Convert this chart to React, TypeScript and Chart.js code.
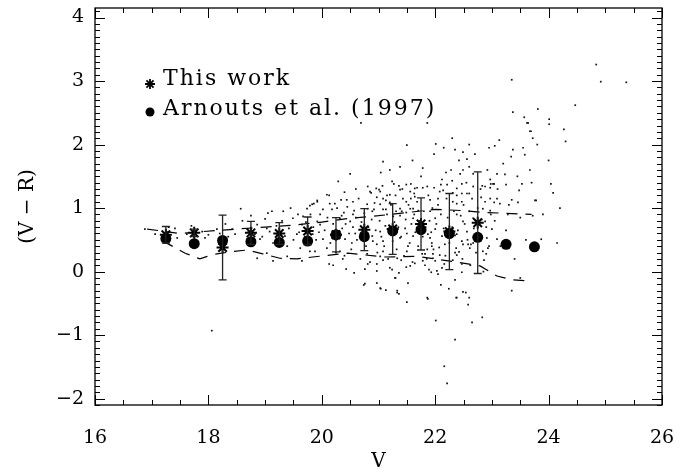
import { useEffect, useRef } from "react";
import { Chart, registerables } from "chart.js";

Chart.register(...registerables);

// ---- data ----
const binV = [17.25, 17.75, 18.25, 18.75, 19.25, 19.75, 20.25, 20.75, 21.25, 21.75, 22.25, 22.75];
const thisWork = [0.58, 0.61, 0.38, 0.61, 0.6, 0.64, 0.58, 0.66, 0.67, 0.75, 0.63, 0.77];
const thisWorkErr = [0.13, 0.06, 0.51, 0.18, 0.17, 0.22, 0.27, 0.33, 0.4, 0.41, 0.6, 0.8];

const arnoutsV = [17.25, 17.75, 18.25, 18.75, 19.25, 19.75, 20.25, 20.75, 21.25, 21.75, 22.25, 22.75, 23.25, 23.75];
const arnouts = [0.52, 0.44, 0.49, 0.47, 0.46, 0.48, 0.58, 0.55, 0.64, 0.66, 0.6, 0.54, 0.43, 0.39];

const upperV = [16.92, 17.5, 17.9, 18.5, 19.0, 19.5, 20.0, 20.5, 21.0, 21.5, 22.0, 22.5, 22.85, 23.2, 23.7];
const upperVR = [0.67, 0.6, 0.63, 0.67, 0.7, 0.73, 0.78, 0.84, 0.88, 0.93, 0.98, 0.96, 0.93, 0.92, 0.9];

const lowerV = [17.2, 17.59, 17.85, 17.98, 18.15, 18.38, 18.68, 18.96, 19.26, 19.56, 19.84, 20.46, 21.11, 21.68, 22.23, 22.79, 23.09, 23.37, 23.7];
const lowerVR = [0.48, 0.29, 0.2, 0.24, 0.28, 0.31, 0.34, 0.28, 0.21, 0.2, 0.23, 0.29, 0.23, 0.24, 0.17, 0.09, -0.07, -0.13, -0.15];

const field: [number, number][] = [
  [16.88, 0.67], [17.06, 0.59], [17.41, 0.68], [17.45, 0.53], [17.62, 0.59], [17.89, 0.63], [17.94, 0.53],
  [18.15, 0.67], [18.42, 0.67], [18.47, 0.59], [18.57, 0.99], [18.68, 0.51], [18.86, 0.74], [18.82, 0.59],
  [18.91, 0.51], [19.03, 0.68], [19.05, 0.92], [19.14, 0.45], [19.21, 0.59], [19.32, 0.95], [19.35, 0.56],
  [19.39, 0.4], [19.49, 0.84], [19.56, 0.59], [19.62, 0.37], [19.65, 0.74], [19.83, 1.06], [19.92, 1.1],
  [19.92, 0.79], [19.88, 0.32], [18.86, 0.21], [19.03, 0.29], [19.39, 0.24], [19.14, 0.17], [19.65, 0.17],
  [18.06, -0.93],
  [20.69, 2.34], [21.04, 1.56], [21.24, 1.42], [21.27, 1.38], [20.81, 1.34], [21.36, 1.35], [21.49, 1.37],
  [21.57, 1.38], [21.68, 1.32], [20.96, 1.31], [21.01, 1.29], [20.87, 1.24], [21.38, 1.29], [21.56, 1.26],
  [21.63, 1.23], [20.09, 1.21], [20.13, 1.2], [19.92, 1.12], [19.86, 1.07], [19.79, 1.04], [20.23, 1.07],
  [20.34, 1.13], [20.55, 1.1], [20.97, 1.17], [21.08, 1.15], [21.15, 1.2], [21.13, 1.12], [21.2, 1.09],
  [21.43, 1.15], [21.49, 1.1], [21.57, 1.15], [21.64, 1.18], [20.18, 0.98], [20.02, 0.98], [20.39, 0.93],
  [20.57, 0.96], [20.81, 0.99], [20.92, 0.98], [21.03, 1.06], [21.13, 0.98], [21.31, 0.95], [21.38, 0.99],
  [21.49, 0.93], [21.61, 0.99], [21.7, 0.96], [19.74, 0.99], [19.67, 0.87], [19.97, 0.9], [20.32, 0.84],
  [20.5, 0.79],
  [21.86, 2.34], [23.62, 2.34], [23.67, 2.21], [23.72, 2.1], [23.13, 2.07], [22.01, 2.01], [23.05, 1.98],
  [22.95, 1.95], [23.37, 1.92], [22.49, 1.88], [21.98, 1.85], [23.58, 1.84], [23.34, 1.81], [22.56, 1.77],
  [21.78, 1.63], [22.49, 1.6], [22.6, 1.65], [23.67, 1.6], [22.19, 1.56], [22.44, 1.54], [22.67, 1.54],
  [23.09, 1.54], [23.23, 1.53], [22.3, 1.43], [22.97, 1.45], [22.98, 1.38], [22.47, 1.38], [23.04, 1.38],
  [23.25, 1.37], [23.53, 1.38], [22.83, 1.35], [22.67, 1.34], [22.1, 1.37], [21.78, 1.32], [21.98, 1.32],
  [22.97, 1.32], [23.48, 1.28], [22.14, 1.28], [22.31, 1.24], [22.47, 1.23], [22.6, 1.23], [22.81, 1.17],
  [22.97, 1.15], [23.35, 1.13], [23.76, 1.12], [21.91, 1.13], [22.05, 1.15], [22.31, 1.1], [22.38, 1.07],
  [22.47, 1.1], [23.04, 1.09], [23.14, 1.07], [23.46, 1.09], [22.84, 0.99], [22.97, 0.96], [23.28, 0.9],
  [23.72, 0.88],
  [20.13, 0.12], [20.43, 0.04], [20.57, -0.02], [20.76, 0.04], [20.81, 0.12], [20.97, 0.01], [21.08, 0.18],
  [21.24, 0.03], [21.29, -0.1], [21.36, -0.02], [21.49, 0.07], [21.52, -0.18], [20.74, -0.21], [20.97, -0.18],
  [21.04, -0.27], [21.13, -0.29], [21.33, -0.33], [21.36, -0.35], [21.5, -0.48], [21.4, 0.18], [20.37, 0.2],
  [21.64, 0.13], [21.03, 0.24], [21.87, -0.43], [22.1, -0.21], [22.24, -0.27], [22.37, -0.41], [22.54, -0.33],
  [22.6, -0.41], [22.58, -0.52], [22.01, -0.77], [22.65, -0.8], [22.83, -0.72], [22.35, -1.07], [22.16, -1.49],
  [22.21, -1.76], [22.35, -0.13], [22.47, -0.01], [22.93, 0.37], [22.9, 0.28], [22.86, 0.18], [22.84, 0.32],
  [22.63, 0.43], [22.58, 0.43], [22.49, 0.43], [22.42, 0.31], [22.37, 0.37], [22.38, 0.26], [22.47, 0.12],
  [22.31, 0.18], [22.16, 0.12], [22.12, 0.06], [22.05, -0.04], [22.03, 0.01], [21.93, -0.01], [21.89, 0.03],
  [21.82, 0.1], [21.78, 0.17], [22.08, 0.26], [22.0, 0.17], [21.96, 0.28], [21.94, 0.4], [21.86, 0.35],
  [21.82, 0.28], [21.91, 0.53], [22.12, 0.56], [22.17, 0.43], [22.35, 0.57], [22.67, 0.45], [22.49, -0.32],
  [20.85, 1.26], [21.03, 1.26], [21.2, 1.21], [21.64, 1.31], [21.86, 1.34], [22.08, 1.26], [22.21, 1.37],
  [22.38, 1.31], [22.56, 1.23], [22.88, 1.34], [23.02, 1.38], [23.09, 1.15], [20.14, 1.07], [20.44, 1.13],
  [20.55, 0.9], [20.8, 1.06], [20.89, 0.95], [21.08, 0.98], [21.26, 0.87], [21.41, 0.95], [21.56, 0.99],
  [21.61, 0.84], [21.91, 0.95], [22.0, 0.84], [22.38, 0.9], [22.49, 0.79], [22.67, 0.84], [22.88, 0.79],
  [23.0, 0.67], [22.91, 0.53], [23.09, 0.51], [19.97, 0.74], [19.84, 0.59], [20.02, 0.51], [20.36, 0.68],
  [20.41, 0.51], [20.53, 0.45], [20.59, 0.6], [20.89, 0.56], [20.97, 0.43], [21.03, 0.63], [21.08, 0.48],
  [21.38, 0.53], [21.47, 0.68], [21.52, 0.4], [21.61, 0.56], [21.87, 0.59], [21.94, 0.45], [22.0, 0.67],
  [22.38, 0.59], [22.47, 0.48], [22.56, 0.63], [22.61, 0.37], [19.79, 0.32], [20.09, 0.37], [20.32, 0.32],
  [20.8, 0.28], [21.08, 0.32], [21.33, 0.21], [21.5, 0.32], [21.77, 0.28], [21.96, 0.21], [20.97, 0.12],
  [21.2, 0.06], [21.56, 0.09], [20.76, -0.19], [21.03, -0.26], [21.33, -0.3], [21.86, -0.41], [22.38, -0.41],
  [21.5, 1.99], [22.35, 1.92], [21.08, 1.73], [21.38, 1.65], [20.5, 1.54], [20.29, 1.42],
  [23.35, 3.02], [24.84, 3.26], [24.92, 2.99], [25.37, 2.98], [24.47, 2.62], [23.81, 2.56], [23.37, 2.51],
  [23.57, 2.43], [23.64, 2.34], [24.01, 2.4], [24.01, 2.32], [24.27, 2.24], [23.69, 2.21], [23.87, 0.51],
  [24.15, 0.45], [23.78, 1.12], [24.04, 1.38], [24.08, 1.24],
  // additional estimated field objects
  [18.6, 0.8], [18.7, 0.62], [18.75, 0.88], [18.95, 0.55], [19.0, 0.83], [19.08, 0.63], [19.12, 0.95],
  [19.2, 0.72], [19.27, 0.47], [19.3, 0.8], [19.42, 0.68], [19.45, 1.0], [19.5, 0.5], [19.58, 0.9],
  [19.6, 0.62], [19.7, 0.55], [19.72, 0.78], [19.77, 0.45], [19.8, 0.9], [19.85, 0.7], [19.9, 0.5],
  [19.95, 0.62], [18.3, 0.75], [18.35, 0.55], [17.3, 0.7], [17.7, 0.72], [18.0, 0.58], [18.2, 0.6],
  [20.05, 0.65], [20.1, 0.85], [20.15, 0.45], [20.2, 0.75], [20.25, 0.3], [20.27, 1.0], [20.3, 0.55],
  [20.35, 0.88], [20.4, 0.25], [20.42, 0.75], [20.45, 1.02], [20.48, 0.6], [20.52, 0.35], [20.55, 0.7],
  [20.6, 0.85], [20.62, 0.5], [20.65, 1.15], [20.68, 0.2], [20.7, 0.78], [20.72, 0.62], [20.75, 0.92],
  [20.78, 0.4], [20.82, 0.7], [20.85, 0.15], [20.88, 0.82], [20.9, 0.48], [20.93, 1.08], [20.95, 0.65],
  [20.98, 0.3], [20.6, 1.3], [20.4, 1.25], [20.2, 0.1],
  [21.02, 0.8], [21.05, 0.55], [21.07, 1.35], [21.1, 0.4], [21.12, 0.72], [21.15, 0.9], [21.17, 0.2],
  [21.2, 0.62], [21.22, 1.05], [21.25, 0.48], [21.28, 0.78], [21.3, 1.2], [21.32, 0.35], [21.35, 0.7],
  [21.38, 0.88], [21.4, 0.55], [21.42, 1.3], [21.45, 0.25], [21.48, 0.82], [21.5, 0.6], [21.53, 1.05],
  [21.55, 0.45], [21.58, 0.75], [21.6, 0.15], [21.63, 0.9], [21.65, 0.62], [21.68, 1.1], [21.7, 0.4],
  [21.72, 0.8], [21.75, 1.5], [21.78, 0.55], [21.8, 0.95], [21.83, 0.7], [21.85, 0.2], [21.88, 1.2],
  [21.9, 0.8], [21.93, 0.62], [21.95, 1.0], [21.97, 0.35], [21.2, 1.6], [21.6, 1.75], [21.3, -0.1],
  [22.02, 0.75], [22.05, 1.05], [22.07, 0.38], [22.1, 0.9], [22.12, 1.45], [22.15, 0.68], [22.18, 0.25],
  [22.2, 1.15], [22.22, 0.85], [22.25, 0.45], [22.28, 1.6], [22.3, 0.7], [22.33, 0.95], [22.35, 0.3],
  [22.38, 1.2], [22.4, 0.65], [22.42, 1.75], [22.45, 0.88], [22.48, 0.2], [22.5, 1.05], [22.52, 0.75],
  [22.55, 1.4], [22.57, 0.5], [22.6, 0.95], [22.62, 0.1], [22.65, 1.15], [22.68, 0.68], [22.7, 1.85],
  [22.72, 0.3], [22.75, 1.0], [22.78, 0.55], [22.8, 1.3], [22.82, 0.82], [22.85, 0.0], [22.88, 1.1],
  [22.9, 0.7], [22.92, 1.6], [22.95, 0.4], [22.98, 0.9], [22.3, 2.1], [22.6, 2.0], [22.15, 1.95],
  [23.05, 0.8], [23.1, 1.3], [23.15, 0.4], [23.2, 1.7], [23.25, 0.65], [23.3, 1.05], [23.4, 0.2],
  [23.45, 1.5], [23.5, 0.85], [23.55, 1.95], [23.6, 0.5], [23.7, 1.4], [23.8, 2.0], [23.9, 0.9],
  [24.0, 1.75], [24.2, 1.0], [24.3, 2.05], [23.35, -0.3], [23.5, -0.1],
];

const xTicks = [16, 18, 20, 22, 24, 26];
const yTicks = [-2, -1, 0, 1, 2, 3, 4];

const legendLabels = ["This work", "Arnouts et al. (1997)"];

const SERIF = "'DejaVu Serif', 'Liberation Serif', serif";

function drawAsterisk(ctx: CanvasRenderingContext2D, x: number, y: number, r: number) {
  ctx.beginPath();
  for (let k = 0; k < 4; k++) {
    const a = (k * Math.PI) / 4;
    ctx.moveTo(x - r * Math.cos(a), y - r * Math.sin(a));
    ctx.lineTo(x + r * Math.cos(a), y + r * Math.sin(a));
  }
  ctx.stroke();
}

const framePlugin = {
  id: "frameTicks",
  afterDraw(chart: any) {
    const { ctx, chartArea: a, scales } = chart;
    const x = scales.x;
    const y = scales.y;
    ctx.save();
    ctx.strokeStyle = "#000";
    ctx.lineWidth = 1.3;
    ctx.strokeRect(a.left, a.top, a.right - a.left, a.bottom - a.top);
    ctx.lineWidth = 1;
    ctx.beginPath();
    for (let i = 0; i <= 20; i++) {
      const v = 16 + i * 0.5;
      const px = Math.round(x.getPixelForValue(v)) + 0.5;
      const len = i % 4 === 0 ? 10 : 5;
      ctx.moveTo(px, a.bottom);
      ctx.lineTo(px, a.bottom - len);
      ctx.moveTo(px, a.top);
      ctx.lineTo(px, a.top + len);
    }
    for (let i = -21; i <= 41; i++) {
      const v = i / 10;
      const py = Math.round(y.getPixelForValue(v)) + 0.5;
      const len = i % 10 === 0 ? 10 : 5;
      ctx.moveTo(a.left, py);
      ctx.lineTo(a.left + len, py);
      ctx.moveTo(a.right, py);
      ctx.lineTo(a.right - len, py);
    }
    ctx.stroke();

    // legend
    ctx.fillStyle = "#000";
    ctx.strokeStyle = "#000";
    ctx.lineWidth = 1.8;
    drawAsterisk(ctx, 150, 84, 5);
    ctx.beginPath();
    ctx.arc(150, 112, 4.5, 0, Math.PI * 2);
    ctx.fill();
    ctx.font = `22px ${SERIF}`;
    (ctx as any).letterSpacing = "2px";
    ctx.textBaseline = "middle";
    ctx.textAlign = "left";
    ctx.fillText(legendLabels[0], 163, 79);
    ctx.fillText(legendLabels[1], 163, 109);
    ctx.restore();
  },
};

const errorBarPlugin = {
  id: "errorBars",
  afterDatasetsDraw(chart: any) {
    const { ctx, scales } = chart;
    const x = scales.x;
    const y = scales.y;
    ctx.save();
    ctx.strokeStyle = "#222";
    ctx.lineWidth = 1.3;
    ctx.beginPath();
    binV.forEach((v, i) => {
      const px = x.getPixelForValue(v);
      const t = y.getPixelForValue(thisWork[i] + thisWorkErr[i]);
      const b = y.getPixelForValue(thisWork[i] - thisWorkErr[i]);
      ctx.moveTo(px, t);
      ctx.lineTo(px, b);
      ctx.moveTo(px - 4, t);
      ctx.lineTo(px + 4, t);
      ctx.moveTo(px - 4, b);
      ctx.lineTo(px + 4, b);
    });
    ctx.stroke();
    ctx.restore();
  },
};

export default function App() {
  const ref = useRef<HTMLCanvasElement | null>(null);
  useEffect(() => {
    if (!ref.current) return;
    const chart = new Chart(ref.current, {
      type: "scatter",
      data: {
        datasets: [
          {
            label: "field",
            data: field.map(([vx, vy]) => ({ x: vx, y: vy })),
            pointStyle: "rect",
            pointRadius: 1.2,
            backgroundColor: "#111",
            borderWidth: 0,
            showLine: false,
          },
          {
            label: "upper",
            data: upperV.map((v, i) => ({ x: v, y: upperVR[i] })),
            showLine: true,
            borderColor: "#000",
            borderWidth: 1.2,
            borderDash: [11, 8],
            pointRadius: 0,
            fill: false,
          },
          {
            label: "lower",
            data: lowerV.map((v, i) => ({ x: v, y: lowerVR[i] })),
            showLine: true,
            borderColor: "#000",
            borderWidth: 1.2,
            borderDash: [11, 8],
            pointRadius: 0,
            fill: false,
          },
          {
            label: legendLabels[1],
            data: arnoutsV.map((v, i) => ({ x: v, y: arnouts[i] })),
            pointStyle: "circle",
            pointRadius: 5.5,
            backgroundColor: "#000",
            borderColor: "#000",
            borderWidth: 0,
          },
          {
            label: legendLabels[0],
            data: binV.map((v, i) => ({ x: v, y: thisWork[i] })),
            pointStyle: "star",
            pointRadius: 6,
            backgroundColor: "#000",
            borderColor: "#000",
            borderWidth: 2,
          },
        ],
      },
      options: {
        animation: false,
        responsive: false,
        maintainAspectRatio: false,
        layout: { padding: { left: 0, right: 30, top: 5, bottom: 0 } },
        plugins: { legend: { display: false }, tooltip: { enabled: false } },
        scales: {
          x: {
            type: "linear",
            min: 16,
            max: 26,
            grid: { display: false, drawTicks: false },
            border: { display: false },
            afterBuildTicks: (s: any) => {
              s.ticks = xTicks.map((v) => ({ value: v }));
            },
            afterFit: (s: any) => {
              s.height = 67;
              s.paddingLeft = 0;
              s.paddingRight = 0;
            },
            ticks: {
              color: "#000",
              padding: 22,
              maxRotation: 0,
              font: { family: SERIF, size: 19 },
              callback: (v: any) => String(v),
            },
            title: {
              display: true,
              text: "V",
              color: "#000",
              font: { family: SERIF, size: 20 },
              padding: { top: 0, bottom: -2 },
            },
          },
          y: {
            type: "linear",
            min: -2.1,
            max: 4.15,
            grid: { display: false, drawTicks: false },
            border: { display: false },
            afterBuildTicks: (s: any) => {
              s.ticks = yTicks.map((v) => ({ value: v }));
            },
            afterFit: (s: any) => {
              s.width = 95;
              s.paddingTop = 0;
              s.paddingBottom = 0;
            },
            ticks: {
              color: "#000",
              padding: 11,
              font: { family: SERIF, size: 19 },
              callback: (v: any) => (Number(v) < 0 ? "\u2212" + Math.abs(Number(v)) : String(v)),
            },
            title: {
              display: true,
              text: "(V \u2212 R)",
              color: "#000",
              font: { family: SERIF, size: 20 },
              padding: { top: 16, bottom: 0 },
            },
          },
        },
      },
      plugins: [errorBarPlugin, framePlugin],
    });
    return () => chart.destroy();
  }, []);
  return (
    <div style={{ position: "absolute", left: 0, top: 0, width: 692, height: 472, background: "#fff" }}>
      <canvas ref={ref} width={692} height={472} style={{ display: "block" }} />
    </div>
  );
}
